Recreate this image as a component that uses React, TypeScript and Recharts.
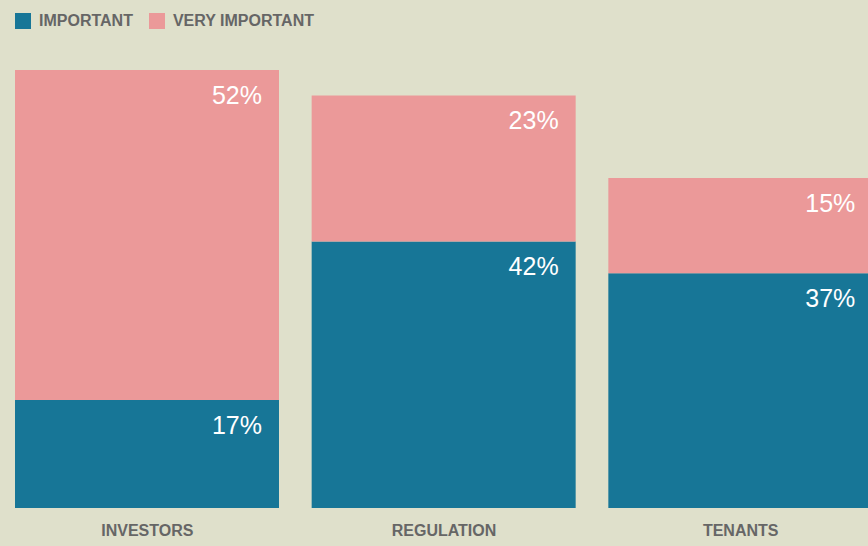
import { BarChart, Bar, XAxis, YAxis, LabelList } from "recharts";

const categories = ["INVESTORS", "REGULATION", "TENANTS"];
const important = [17, 42, 37];
const veryImportant = [52, 23, 15];

const BLUE = "#177697";
const PINK = "#eb9999";
const BG = "#dfe0cb";
const GREY = "#666666";
const FONT = "'Liberation Sans', Arial, sans-serif";

const data = categories.map((name, i) => ({
  name,
  important: important[i],
  veryImportant: veryImportant[i],
}));

// value label sits in the top right corner of each segment
const SegmentLabel = (props: any) => {
  const { x, y, width, value } = props;
  return (
    <text
      x={x + width - 17}
      y={y + 27}
      textAnchor="end"
      dominantBaseline="middle"
      fill="#ffffff"
      fontSize={25}
      fontFamily={FONT}
    >
      {value}%
    </text>
  );
};

const legendItems = [
  { label: "IMPORTANT", color: BLUE },
  { label: "VERY IMPORTANT", color: PINK },
];

export default function App() {
  return (
    <div
      style={{
        position: "absolute",
        left: 0,
        top: 0,
        width: 868,
        height: 546,
        overflow: "hidden",
        background: BG,
        fontFamily: FONT,
      }}
    >
      <div
        style={{
          position: "absolute",
          left: 15,
          top: 12,
          display: "flex",
          alignItems: "center",
        }}
      >
        {legendItems.map((item) => (
          <div
            key={item.label}
            style={{ display: "flex", alignItems: "center", marginRight: 16 }}
          >
            <span
              style={{
                width: 16,
                height: 16,
                background: item.color,
                display: "inline-block",
                marginRight: 8,
              }}
            />
            <span
              style={{
                color: GREY,
                fontSize: 16,
                fontWeight: 600,
                lineHeight: "18px",
              }}
            >
              {item.label}
            </span>
          </div>
        ))}
      </div>
      <BarChart
        width={889}
        height={546}
        data={data}
        margin={{ top: 70, right: 0, bottom: 0, left: -1 }}
        barSize={264}
      >
        <YAxis hide domain={[0, 69]} />
        <XAxis
          dataKey="name"
          axisLine={false}
          tickLine={false}
          height={38}
          tick={{
            fill: GREY,
            fontSize: 16,
            fontWeight: 600,
            fontFamily: FONT,
          }}
          tickMargin={11}
          interval={0}
        />
        <Bar dataKey="important" stackId="a" fill={BLUE} isAnimationActive={false}>
          <LabelList dataKey="important" content={SegmentLabel} />
        </Bar>
        <Bar
          dataKey="veryImportant"
          stackId="a"
          fill={PINK}
          isAnimationActive={false}
        >
          <LabelList dataKey="veryImportant" content={SegmentLabel} />
        </Bar>
      </BarChart>
    </div>
  );
}
